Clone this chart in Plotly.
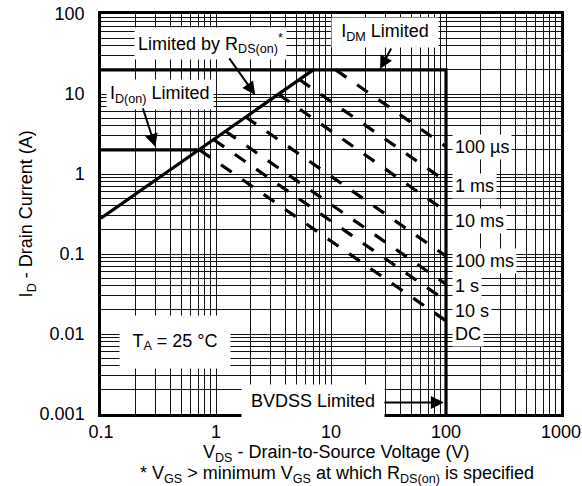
import plotly.graph_objects as go

# ---------------- data ----------------
rds_v = [0.1, 7.0]            # Limited by RDS(on)
rds_i = [0.28, 20.0]
idon_v = [0.1, 0.72]          # ID(on) limited
idon_i = [2.0, 2.0]
idm_v = [0.1, 100.0, 100.0]   # IDM limited + BVDSS limited
idm_i = [20.0, 20.0, 0.001]

pulse_names = ["100 µs", "1 ms", "10 ms", "100 ms", "1 s", "10 s", "DC"]
pulse_start_v = [11.0, 5.3, 3.5, 1.8, 1.2, 0.95, 0.72]
pulse_start_i = [20.0, 15.2, 9.9, 5.2, 3.45, 2.7, 2.0]
pulse_end_v = [100.0, 100.0, 100.0, 100.0, 100.0, 100.0, 100.0]
pulse_end_i = [2.2, 0.81, 0.34, 0.094, 0.042, 0.026, 0.0146]

x_tickvals = [0.1, 1, 10, 100, 1000]
x_ticktext = ["0.1", "1", "10", "100", "1000"]
y_tickvals = [0.001, 0.01, 0.1, 1, 10, 100]
y_ticktext = ["0.001", "0.01", "0.1", "1", "10", "100"]

# label text centres (pixels) for the pulse labels
pulse_label_py = [147.5, 186, 221.5, 261, 286, 311, 334]

# ---------------- figure ----------------
W, H = 582, 486
PX0, PX1, PY0, PY1 = 100.5, 561.3, 14.0, 414.5


def px(x):
    return (x - PX0) / (PX1 - PX0)


def py(y):
    return (PY1 - y) / (PY1 - PY0)


FONT = "Arial, Liberation Sans, Helvetica, sans-serif"
BLACK = "#000000"

fig = go.Figure()

for sv, si, ev, ei in zip(pulse_start_v, pulse_start_i, pulse_end_v, pulse_end_i):
    fig.add_trace(go.Scatter(x=[sv, ev], y=[si, ei], mode="lines",
                             line=dict(color=BLACK, width=3.2, dash="13px,13px"),
                             hoverinfo="skip", showlegend=False))

for xs, ys in [(rds_v, rds_i), (idon_v, idon_i), (idm_v, idm_i)]:
    fig.add_trace(go.Scatter(x=xs, y=ys, mode="lines",
                             line=dict(color=BLACK, width=3.2),
                             hoverinfo="skip", showlegend=False))

grid = "#111111"
axis_common = dict(
    type="log", showgrid=True, gridcolor=grid, gridwidth=1.1,
    minor=dict(dtick="D1", showgrid=True, gridcolor=grid, gridwidth=1.1, ticks=""),
    showline=True, mirror=True, linecolor=BLACK, linewidth=2.5,
    ticks="", ticklen=0, zeroline=False, automargin=False,
    tickfont=dict(family=FONT, size=18, color=BLACK),
)

fig.update_xaxes(range=[-1, 3], tickvals=x_tickvals, ticktext=x_ticktext,
                 ticklabelstandoff=0, **axis_common)
fig.update_yaxes(range=[-3, 2], tickvals=y_tickvals, ticktext=y_ticktext,
                 ticklabelstandoff=10, **axis_common)

ann = []


def label(text, cx, cy, **kw):
    d = dict(text=text, xref="paper", yref="paper", x=px(cx), y=py(cy),
             xanchor="center", yanchor="middle", showarrow=False,
             bgcolor="white", borderpad=3,
             font=dict(family=FONT, size=18, color=BLACK))
    d.update(kw)
    ann.append(d)


def arrow(tail, head):
    ann.append(dict(text="", xref="paper", yref="paper", x=px(head[0]), y=py(head[1]),
                    ax=tail[0] - head[0], ay=tail[1] - head[1], axref="pixel", ayref="pixel",
                    showarrow=True, arrowhead=2, arrowsize=1.3, arrowwidth=2,
                    arrowcolor=BLACK, standoff=0, startstandoff=0))


label("Limited by R<sub>DS(on)</sub><sup>*</sup>", 210, 44)
label("I<sub>D(on)</sub> Limited", 160, 95)
label("I<sub>DM</sub> Limited", 385, 33, width=100)
label("T<sub>A</sub> = 25 °C", 175, 342, width=104, height=46)
label("BVDSS Limited", 313, 401, width=136, height=26)

for name, yy in zip(pulse_names, pulse_label_py):
    label(name, 452, yy, xanchor="left", borderpad=2)

arrow((228, 57), (255, 95))
arrow((142, 107), (155, 147))
arrow((392, 47), (380, 69))
arrow((383, 403), (444, 403))

# axis titles and footnote
label("V<sub>DS</sub> - Drain-to-Source Voltage (V)", 336, 454, bgcolor="rgba(0,0,0,0)", borderpad=0)
label("* V<sub>GS</sub> &gt; minimum V<sub>GS</sub> at which R<sub>DS(on)</sub> is specified", 337, 475.5,
      bgcolor="rgba(0,0,0,0)", borderpad=0)
label("I<sub>D</sub> - Drain Current (A)", 27, 214, textangle=-90, bgcolor="rgba(0,0,0,0)", borderpad=0)

fig.update_layout(
    width=W, height=H,
    margin=dict(l=PX0, r=W - PX1, t=PY0, b=H - PY1, autoexpand=False),
    paper_bgcolor="white", plot_bgcolor="white",
    font=dict(family=FONT, size=18, color=BLACK),
    annotations=ann, showlegend=False,
)

fig.write_html("out.html", config={"displayModeBar": False},
               post_script="document.body.style.margin='0px';document.body.style.overflow='hidden';")
